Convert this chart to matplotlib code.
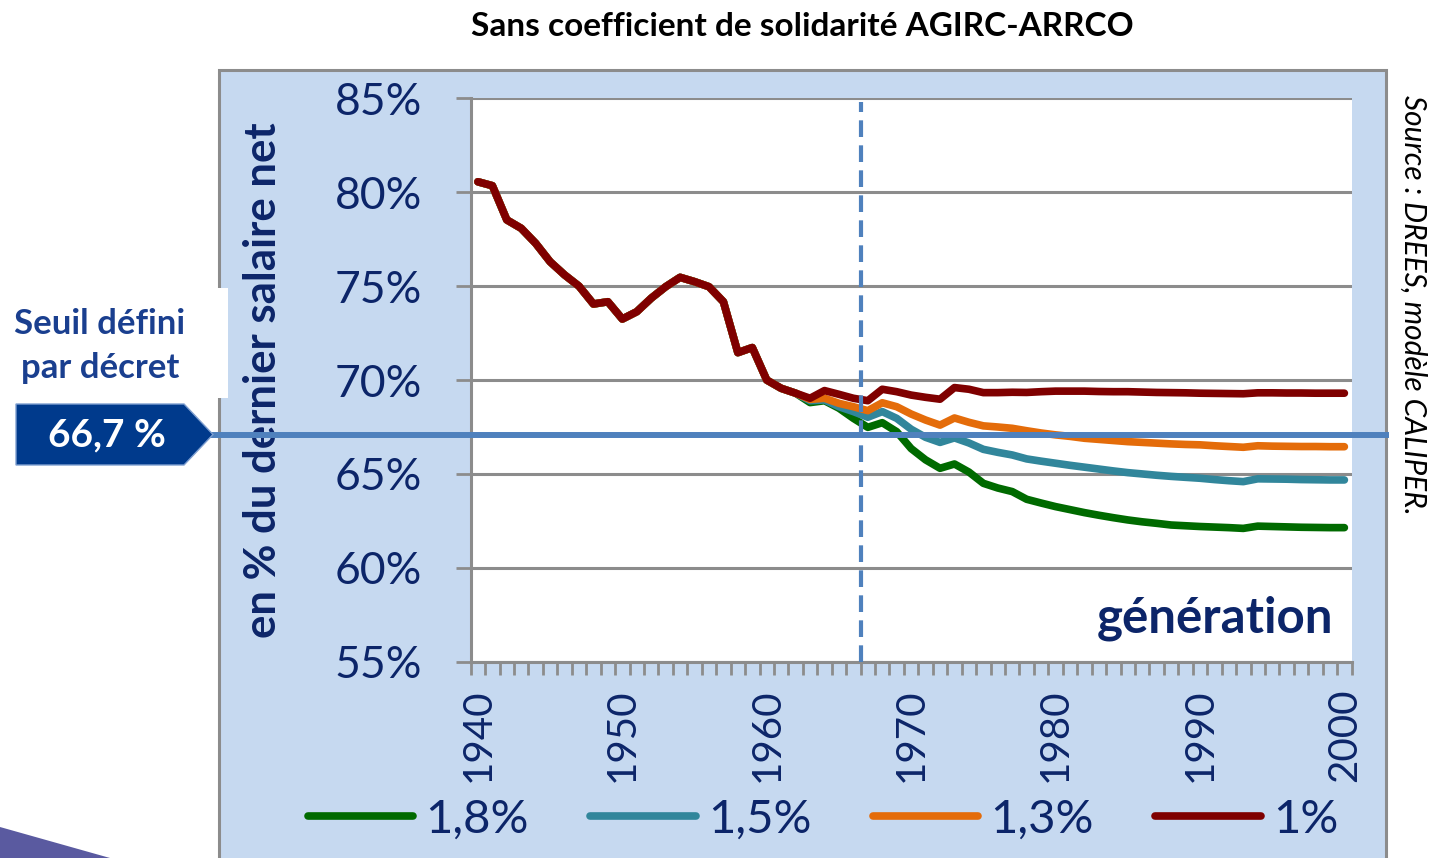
import matplotlib
matplotlib.use("Agg")
import matplotlib.pyplot as plt
import matplotlib.transforms as mtransforms
from matplotlib.patches import Rectangle, Polygon
from matplotlib.lines import Line2D

plt.rcParams['font.family'] = ['Lato', 'DejaVu Sans']

# générations 1940 -> 2000
years = list(range(1940, 2001))

# tronc commun des 4 scénarios, 1940-1962
common = [80.56, 80.35, 78.53, 78.08, 77.28, 76.30, 75.60, 75.00, 74.05, 74.17,
          73.25, 73.64, 74.36, 74.97, 75.47, 75.24, 74.97, 74.17, 71.46, 71.73,
          70.00, 69.56, 69.30]

# 1963-2000 selon le taux de revalorisation
tail_1_8 = [68.80, 68.90, 68.50, 67.96, 67.48, 67.73, 67.25,
            66.35, 65.75, 65.30, 65.53, 65.10, 64.50, 64.25, 64.06, 63.65, 63.45,
            63.26, 63.10, 62.94, 62.80, 62.67, 62.55, 62.45, 62.37, 62.28, 62.24,
            62.20, 62.17, 62.14, 62.10, 62.22, 62.20, 62.18, 62.16, 62.15, 62.14,
            62.14]
tail_1_5 = [68.90, 68.94, 68.58, 68.32, 68.02, 68.32, 67.96,
            67.38, 66.95, 66.68, 66.92, 66.65, 66.31, 66.15, 66.01, 65.80, 65.68,
            65.57, 65.46, 65.36, 65.26, 65.16, 65.07, 65.00, 64.93, 64.87, 64.82,
            64.77, 64.70, 64.64, 64.59, 64.74, 64.73, 64.72, 64.70, 64.69, 64.68,
            64.68]
tail_1_3 = [68.97, 69.03, 68.76, 68.58, 68.37, 68.79, 68.58,
            68.19, 67.87, 67.60, 67.98, 67.75, 67.56, 67.50, 67.43, 67.30, 67.18,
            67.08, 67.00, 66.90, 66.84, 66.78, 66.72, 66.68, 66.64, 66.60, 66.57,
            66.55, 66.50, 66.46, 66.42, 66.50, 66.48, 66.47, 66.46, 66.46, 66.45,
            66.45]
tail_1_0 = [69.03, 69.44, 69.24, 69.03, 68.90, 69.51, 69.38,
            69.20, 69.08, 68.98, 69.60, 69.51, 69.33, 69.33, 69.35, 69.34, 69.38,
            69.41, 69.41, 69.41, 69.39, 69.38, 69.38, 69.36, 69.34, 69.33, 69.32,
            69.30, 69.29, 69.28, 69.27, 69.32, 69.32, 69.31, 69.31, 69.30, 69.30,
            69.30]

series_labels = ["1,8%", "1,5%", "1,3%", "1%"]
series_values = [common + tail_1_8, common + tail_1_5,
                 common + tail_1_3, common + tail_1_0]
series_colors = ["#006a00", "#31869b", "#e46c0a", "#7f0000"]

y_ticks = [55, 60, 65, 70, 75, 80, 85]
x_labels = [1940, 1950, 1960, 1970, 1980, 1990, 2000]
threshold_pos = 67.1      # position de la ligne "66,7 %" telle que dessinée
reform_year = 1966.5

navy = "#0c2569"
grey = "#8c8c8c"

W, H = 1430, 858
fig = plt.figure(figsize=(W / 100, H / 100), dpi=100)

# cadre bleu clair
fig.patches.append(Rectangle((219 / W, -0.05), (1386 - 219) / W, 0.05 + 1 - 70 / H,
                             transform=fig.transFigure, facecolor="#c6d9f0",
                             edgecolor=grey, linewidth=2.2, zorder=0))
# petit triangle décoratif en bas à gauche
fig.patches.append(Polygon([(0, 1 - 827 / H), (110 / W, 0), (0, 0)],
                           closed=True, transform=fig.transFigure,
                           facecolor="#5a5aa0", edgecolor="none", zorder=0))
# encart blanc "Seuil défini"
fig.patches.append(Rectangle((0, 1 - 398 / H), 228 / W, 110 / H,
                             transform=fig.transFigure, facecolor="white",
                             edgecolor="none", zorder=1))

ax = fig.add_axes([470.7 / W, 1 - 661.7 / H, 880.9 / W, 563.3 / H])
ax.set_zorder(1.5)
ax.set_facecolor("white")

for vals, col in zip(series_values, series_colors):
    ax.plot(years, vals, color=col, linewidth=5.5, solid_capstyle="round",
            solid_joinstyle="round", zorder=3)

ax.set_xlim(1939.5, 2000.5)
ax.set_ylim(55, 85)
ax.set_yticks(y_ticks)
ax.set_yticklabels([f"{v}%" for v in y_ticks])
ax.set_xticks(x_labels)
ax.set_xticklabels([str(v) for v in x_labels], rotation=90)
ax.set_xticks([y - 0.5 for y in years] + [2000.5], minor=True)

ax.grid(axis="y", color=grey, linewidth=2.2, zorder=1)
ax.set_axisbelow(True)
for side in ["top", "right"]:
    ax.spines[side].set_visible(False)
for side in ["left", "bottom"]:
    ax.spines[side].set_color(grey)
    ax.spines[side].set_linewidth(2.2)

ax.tick_params(axis="y", which="major", length=11, width=2, color=grey,
               labelsize=32, labelcolor=navy, pad=24)
ax.tick_params(axis="x", which="major", length=0, labelsize=29,
               labelcolor=navy, pad=19)
ax.tick_params(axis="x", which="minor", length=9.5, width=2, color=grey,
               direction="out")

ax.set_ylabel("en % du dernier salaire net", fontsize=31.5, fontweight="bold",
              color=navy)
ax.yaxis.set_label_coords(-0.2135, 0.5)

# ligne verticale pointillée (génération charnière)
ax.plot([reform_year, reform_year], [55, 84.8], color="#4f81bd", linewidth=3,
        linestyle=(0, (4, 2)), zorder=4)

# seuil horizontal, prolongé jusqu'au cadre
trans = mtransforms.blended_transform_factory(fig.transFigure, ax.transData)
ax.add_line(Line2D([213 / W, 1386 / W], [threshold_pos, threshold_pos],
                   transform=trans, color="#4f81bd", linewidth=4.3,
                   clip_on=False, zorder=5))

ax.text(0.979, 0.0776, "génération", transform=ax.transAxes, ha="right",
        va="center", fontsize=35.5, fontweight="bold", color=navy)

fig.text(802 / W, 1 - 26 / H, "Sans coefficient de solidarité AGIRC-ARRCO",
         ha="center", va="center", fontsize=24, fontweight="bold", color="black")

fig.text(1413 / W, 1 - 305 / H, "Source : DREES, modèle CALIPER.",
         rotation=-90, ha="center", va="center", fontsize=21.5, style="italic",
         color="black")

fig.text(100 / W, 1 - 346 / H, "Seuil défini\npar décret", ha="center",
         va="center", fontsize=25, fontweight="bold", color="#1a3f8f",
         linespacing=1.5, zorder=2)

# flèche "66,7 %"
fig.patches.append(Polygon([(16 / W, 1 - 404 / H), (184 / W, 1 - 404 / H),
                            (213 / W, 1 - 434.5 / H), (184 / W, 1 - 465 / H),
                            (16 / W, 1 - 465 / H)], closed=True,
                           transform=fig.transFigure, facecolor="#003a8c",
                           edgecolor="#7f9fd0", linewidth=1, zorder=2))
fig.text(107 / W, 1 - 435 / H, "66,7 %", ha="center", va="center",
         fontsize=28, fontweight="bold", color="white", zorder=3)

handles = [Line2D([], [], color=c, linewidth=5.5, solid_capstyle="round")
           for c in series_colors]
fig.legend(handles, series_labels, loc="center",
           bbox_to_anchor=(823 / W, 1 - 820 / H), ncol=4, frameon=False,
           fontsize=34, labelcolor=navy, handlelength=2.23,
           handletextpad=0.26, columnspacing=1.3)

fig.savefig("out.png", dpi=100)
